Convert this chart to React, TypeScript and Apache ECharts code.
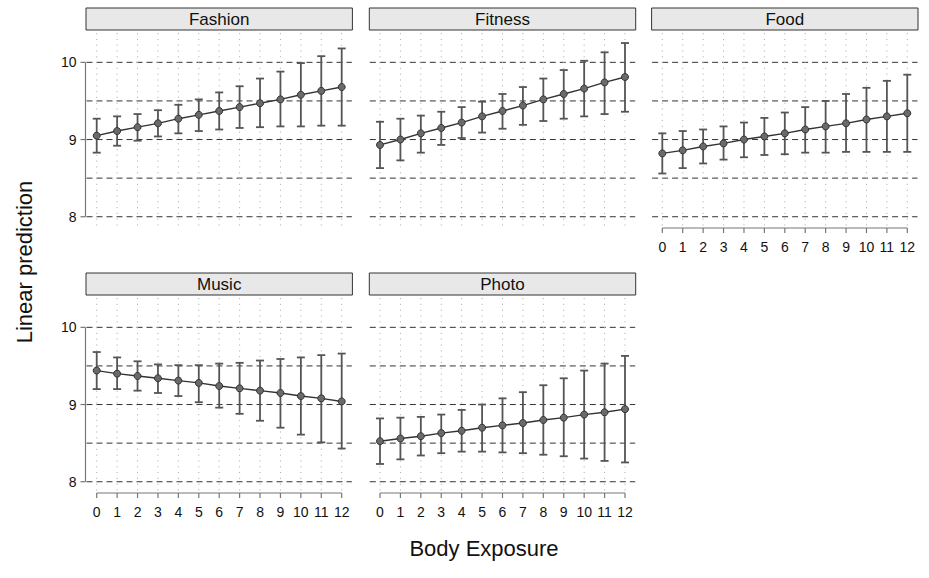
import React, { useEffect, useRef } from 'react';
import * as echarts from 'echarts';

const PANELS = ['Fashion', 'Fitness', 'Food', 'Music', 'Photo'];
const X_VALUES = [0, 1, 2, 3, 4, 5, 6, 7, 8, 9, 10, 11, 12];
const Y_TICKS = [8, 9, 10];
const Y_GRID = [8, 8.5, 9, 9.5, 10];
const X_TITLE = 'Body Exposure';
const Y_TITLE = 'Linear prediction';

const FASHION_PRED = [9.05, 9.11, 9.16, 9.21, 9.27, 9.32, 9.37, 9.42, 9.47, 9.52, 9.58, 9.63, 9.68];
const FASHION_LO = [8.83, 8.92, 8.985, 9.04, 9.08, 9.11, 9.13, 9.15, 9.16, 9.17, 9.17, 9.18, 9.18];
const FASHION_HI = [9.27, 9.3, 9.33, 9.38, 9.45, 9.52, 9.61, 9.69, 9.79, 9.88, 9.99, 10.08, 10.18];

const FITNESS_PRED = [8.93, 9.0, 9.08, 9.15, 9.22, 9.3, 9.37, 9.44, 9.52, 9.59, 9.66, 9.74, 9.81];
const FITNESS_LO = [8.63, 8.73, 8.83, 8.93, 9.02, 9.09, 9.14, 9.19, 9.24, 9.27, 9.3, 9.33, 9.36];
const FITNESS_HI = [9.23, 9.27, 9.31, 9.36, 9.42, 9.49, 9.59, 9.68, 9.79, 9.9, 10.02, 10.13, 10.25];

const FOOD_PRED = [8.82, 8.86, 8.91, 8.95, 9.0, 9.04, 9.08, 9.13, 9.17, 9.21, 9.26, 9.3, 9.34];
const FOOD_LO = [8.56, 8.63, 8.69, 8.74, 8.77, 8.8, 8.81, 8.83, 8.83, 8.84, 8.84, 8.84, 8.84];
const FOOD_HI = [9.08, 9.11, 9.13, 9.17, 9.22, 9.28, 9.35, 9.42, 9.5, 9.59, 9.67, 9.76, 9.84];

const MUSIC_PRED = [9.44, 9.4, 9.37, 9.34, 9.31, 9.28, 9.24, 9.21, 9.18, 9.15, 9.11, 9.08, 9.04];
const MUSIC_LO = [9.2, 9.2, 9.18, 9.15, 9.11, 9.03, 8.96, 8.88, 8.79, 8.7, 8.61, 8.51, 8.43];
const MUSIC_HI = [9.68, 9.61, 9.56, 9.52, 9.51, 9.51, 9.53, 9.54, 9.57, 9.59, 9.61, 9.64, 9.66];

const PHOTO_PRED = [8.525, 8.56, 8.59, 8.63, 8.66, 8.7, 8.73, 8.76, 8.8, 8.83, 8.87, 8.9, 8.94];
const PHOTO_LO = [8.23, 8.29, 8.34, 8.37, 8.39, 8.39, 8.38, 8.37, 8.35, 8.33, 8.3, 8.27, 8.25];
const PHOTO_HI = [8.82, 8.83, 8.84, 8.87, 8.93, 9.0, 9.08, 9.16, 9.25, 9.34, 9.44, 9.53, 9.63];

const PRED = [FASHION_PRED, FITNESS_PRED, FOOD_PRED, MUSIC_PRED, PHOTO_PRED];
const LO = [FASHION_LO, FITNESS_LO, FOOD_LO, MUSIC_LO, PHOTO_LO];
const HI = [FASHION_HI, FITNESS_HI, FOOD_HI, MUSIC_HI, PHOTO_HI];

const FONT = '"Liberation Sans", Arial, Helvetica, sans-serif';

const LAYOUT = [
  { left: 86.5, top: 33, yAxisShown: true, xAxisShown: false },
  { left: 369.8, top: 33, yAxisShown: false, xAxisShown: false },
  { left: 652.1, top: 33, yAxisShown: false, xAxisShown: true },
  { left: 86.5, top: 298, yAxisShown: true, xAxisShown: true },
  { left: 369.8, top: 298, yAxisShown: false, xAxisShown: true },
];
const GW = 265.4;
const GH = 193;
const X_MIN = -0.5;
const X_MAX = 12.5;
const Y_MIN = 7.88;
const Y_MAX = 10.38;

export default function App() {
  const ref = useRef<HTMLDivElement>(null);

  useEffect(() => {
    document.body.style.margin = '0';
    if (!ref.current) return;
    const chart = echarts.init(ref.current, null, { renderer: 'svg' });

    const grids: any[] = [];
    const xAxes: any[] = [];
    const yAxes: any[] = [];
    const series: any[] = [];
    const graphics: any[] = [];

    PANELS.forEach((name, i) => {
      const L = LAYOUT[i];
      grids.push({ left: L.left, top: L.top, width: GW, height: GH, containLabel: false });
      xAxes.push({
        type: 'value',
        gridIndex: i,
        min: X_MIN,
        max: X_MAX,
        axisLine: { show: false },
        axisTick: { show: false },
        splitLine: { show: false },
        axisLabel: {
          show: L.xAxisShown,
          customValues: X_VALUES,
          margin: 14,
          fontSize: 14,
          color: '#111',
          fontFamily: FONT,
        },
      });
      yAxes.push({
        type: 'value',
        gridIndex: i,
        min: Y_MIN,
        max: Y_MAX,
        axisLine: { show: false },
        axisTick: { show: false },
        splitLine: { show: false },
        axisLabel: {
          show: L.yAxisShown,
          customValues: Y_TICKS,
          margin: 10,
          fontSize: 14,
          color: '#111',
          fontFamily: FONT,
        },
      });

      // horizontal dashed grid lines
      series.push({
        type: 'custom',
        xAxisIndex: i,
        yAxisIndex: i,
        z: 1,
        silent: true,
        data: Y_GRID.map((v) => [0, v]),
        encode: { x: 0, y: 1 },
        renderItem: (params: any, api: any) => {
          const cs = params.coordSys;
          const y = api.coord([0, api.value(1)])[1];
          return {
            type: 'line',
            shape: { x1: cs.x, y1: y, x2: cs.x + cs.width, y2: y },
            style: { stroke: '#333', lineWidth: 1, lineDash: [6, 4] },
          };
        },
      });
      // vertical dotted grid lines
      series.push({
        type: 'custom',
        xAxisIndex: i,
        yAxisIndex: i,
        z: 1,
        silent: true,
        data: X_VALUES.map((v) => [v, 9]),
        encode: { x: 0, y: 1 },
        renderItem: (params: any, api: any) => {
          const cs = params.coordSys;
          const x = api.coord([api.value(0), 9])[0];
          return {
            type: 'line',
            shape: { x1: x, y1: cs.y, x2: x, y2: cs.y + cs.height },
            style: { stroke: '#b4b4b4', lineWidth: 1, lineDash: [1.2, 4.6] },
          };
        },
      });
      // axis lines and ticks
      series.push({
        type: 'custom',
        xAxisIndex: i,
        yAxisIndex: i,
        z: 1,
        silent: true,
        data: [[0, 9]],
        encode: { x: 0, y: 1 },
        renderItem: (params: any, api: any) => {
          const cs = params.coordSys;
          const children: any[] = [];
          const st = { stroke: '#777', lineWidth: 1.2 };
          if (L.yAxisShown) {
            const yTop = api.coord([0, Y_TICKS[Y_TICKS.length - 1]])[1];
            const yBot = api.coord([0, Y_TICKS[0]])[1];
            const ax = cs.x - 1;
            children.push({ type: 'line', shape: { x1: ax, y1: yTop, x2: ax, y2: yBot }, style: st });
            Y_TICKS.forEach((t) => {
              const y = api.coord([0, t])[1];
              children.push({ type: 'line', shape: { x1: ax - 5, y1: y, x2: ax, y2: y }, style: st });
            });
          }
          if (L.xAxisShown) {
            const ay = cs.y + cs.height + 2;
            const x0 = api.coord([X_VALUES[0], 9])[0];
            const x1 = api.coord([X_VALUES[X_VALUES.length - 1], 9])[0];
            children.push({ type: 'line', shape: { x1: x0, y1: ay, x2: x1, y2: ay }, style: st });
            X_VALUES.forEach((t) => {
              const x = api.coord([t, 9])[0];
              children.push({ type: 'line', shape: { x1: x, y1: ay, x2: x, y2: ay + 5 }, style: st });
            });
          }
          return { type: 'group', children };
        },
      });
      // error bars
      series.push({
        type: 'custom',
        name: name + ' CI',
        xAxisIndex: i,
        yAxisIndex: i,
        z: 2,
        silent: true,
        data: X_VALUES.map((x, j) => [x, LO[i][j], HI[i][j]]),
        encode: { x: 0, y: [1, 2] },
        renderItem: (params: any, api: any) => {
          const x = api.value(0);
          const lo = api.coord([x, api.value(1)]);
          const hi = api.coord([x, api.value(2)]);
          const hw = 4;
          const st = { stroke: '#555', lineWidth: 1.8 };
          return {
            type: 'group',
            children: [
              { type: 'line', shape: { x1: lo[0], y1: lo[1], x2: hi[0], y2: hi[1] }, style: st },
              { type: 'line', shape: { x1: lo[0] - hw, y1: lo[1], x2: lo[0] + hw, y2: lo[1] }, style: st },
              { type: 'line', shape: { x1: hi[0] - hw, y1: hi[1], x2: hi[0] + hw, y2: hi[1] }, style: st },
            ],
          };
        },
      });
      // prediction line
      series.push({
        type: 'line',
        name,
        xAxisIndex: i,
        yAxisIndex: i,
        z: 3,
        data: X_VALUES.map((x, j) => [x, PRED[i][j]]),
        symbol: 'circle',
        symbolSize: 7,
        showSymbol: true,
        lineStyle: { color: '#333', width: 1.4 },
        itemStyle: { color: '#6a6a6a', borderColor: '#333', borderWidth: 1 },
      });

      graphics.push({
        type: 'rect',
        shape: { x: L.left - 0.5, y: L.top - 25, width: GW + 1, height: 22 },
        style: { fill: '#e8e8e8', stroke: '#333', lineWidth: 1 },
        silent: true,
      });
      graphics.push({
        type: 'text',
        x: L.left + GW / 2,
        y: L.top - 14,
        style: {
          text: name,
          fontSize: 17,
          fontFamily: FONT,
          fill: '#111',
          textAlign: 'center',
          textVerticalAlign: 'middle',
        },
        silent: true,
      });
    });

    graphics.push({
      type: 'text',
      x: 484,
      y: 548,
      style: {
        text: X_TITLE,
        fontSize: 22,
        fontFamily: FONT,
        fill: '#111',
        textAlign: 'center',
        textVerticalAlign: 'middle',
      },
      silent: true,
    });
    graphics.push({
      type: 'text',
      x: 24,
      y: 262,
      rotation: Math.PI / 2,
      style: {
        text: Y_TITLE,
        fontSize: 22,
        fontFamily: FONT,
        fill: '#111',
        textAlign: 'center',
        textVerticalAlign: 'middle',
      },
      silent: true,
    });

    chart.setOption({
      animation: false,
      backgroundColor: '#ffffff',
      grid: grids,
      xAxis: xAxes,
      yAxis: yAxes,
      series,
      graphic: graphics,
    });

    return () => {
      chart.dispose();
    };
  }, []);

  return <div ref={ref} style={{ width: 929, height: 578 }} />;
}
